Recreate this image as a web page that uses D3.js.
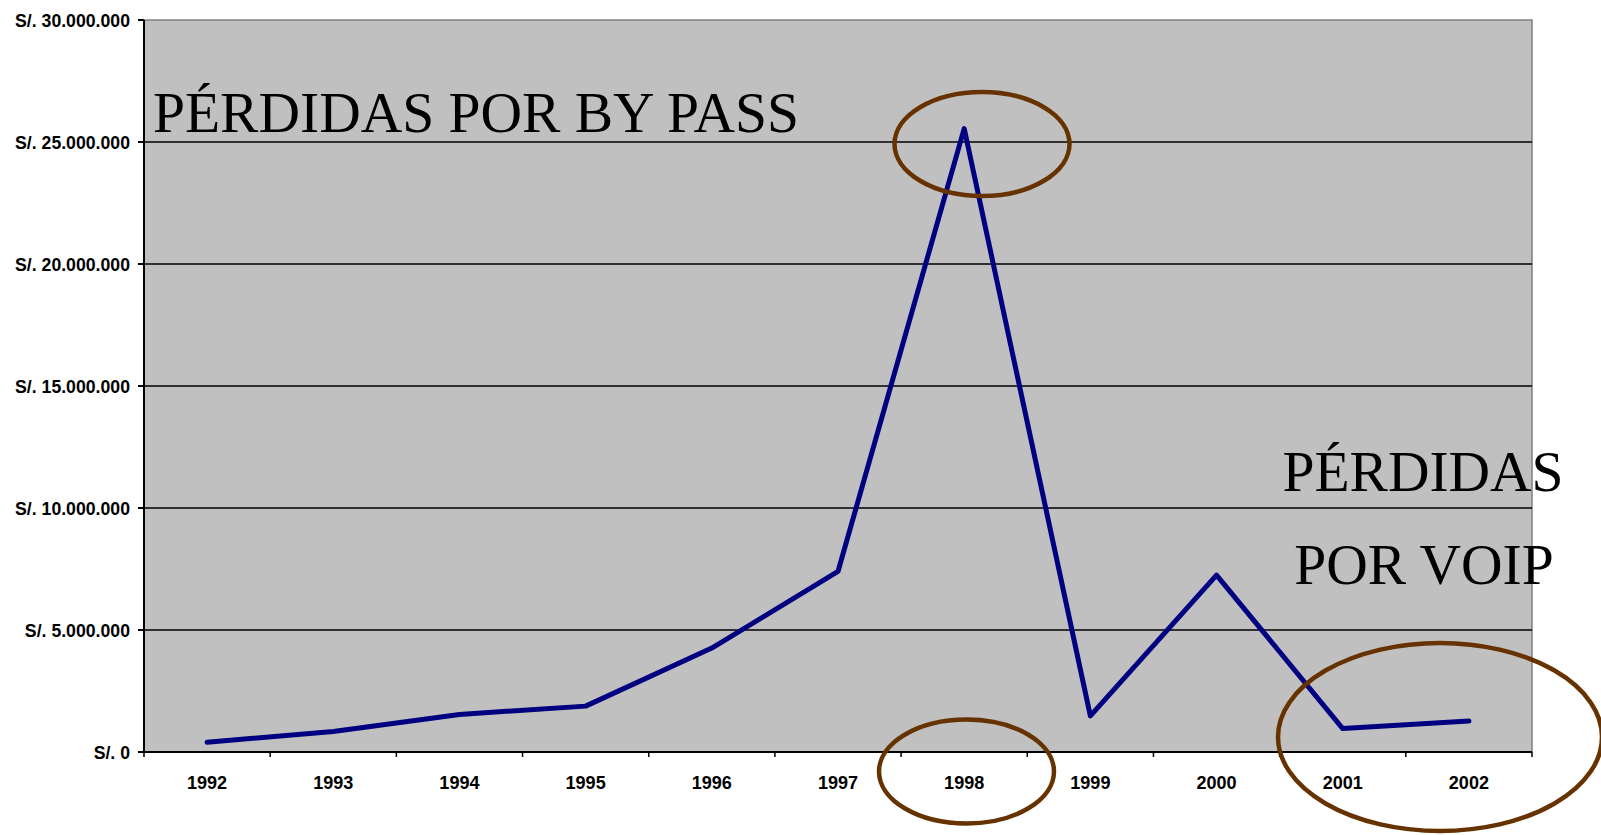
<!DOCTYPE html>
<html>
<head>
<meta charset="utf-8">
<script src="https://cdn.jsdelivr.net/npm/d3@7.9.0/dist/d3.min.js"></script>
<style>
  html, body { margin: 0; padding: 0; background: #fff; }
  svg { display: block; }
  .tick-label { font-family: "Liberation Sans", Arial, sans-serif; font-weight: bold; font-size: 19px; fill: #000; }
  .note { font-family: "Liberation Serif", "Times New Roman", serif; font-size: 57.5px; fill: #000; }
</style>
</head>
<body>
<svg id="chart" width="1601" height="835"></svg>
<script>
const years = ['1992', '1993', '1994', '1995', '1996', '1997', '1998', '1999', '2000', '2001', '2002'];
const losses = [400000, 840000, 1540000, 1880000, 4260000, 7400000, 25550000, 1480000, 7250000, 960000, 1270000];
const yTicks = [0, 5000000, 10000000, 15000000, 20000000, 25000000, 30000000];

const svg = d3.select('#chart');
const margin = { top: 20, right: 69, bottom: 83, left: 144 };
const width = 1601 - margin.left - margin.right;
const height = 835 - margin.top - margin.bottom;

const x = d3.scaleBand().domain(years).range([0, width]).padding(0);
const y = d3.scaleLinear().domain([0, 30000000]).range([height, 0]);

const fmt = (v) => 'S/. ' + d3.format(',')(v).replace(/,/g, '.');

// the original labels are a bit narrower than Arial bold
function squeeze(sel, k) {
  sel.each(function () {
    const len = this.getComputedTextLength();
    d3.select(this).attr('textLength', len * k).attr('lengthAdjust', 'spacingAndGlyphs');
  });
}

const g = svg.append('g').attr('transform', `translate(${margin.left},${margin.top})`);

// plot background + frame
g.append('rect')
  .attr('width', width)
  .attr('height', height)
  .attr('fill', '#c0c0c0')
  .attr('stroke', '#808080')
  .attr('stroke-width', 1.5);

// gridlines
g.selectAll('.grid')
  .data(yTicks.slice(1, -1))
  .join('line')
  .attr('x1', 0)
  .attr('x2', width)
  .attr('y1', (d) => y(d))
  .attr('y2', (d) => y(d))
  .attr('stroke', '#000')
  .attr('stroke-width', 1.5);

// y axis
g.append('line').attr('x1', 0).attr('x2', 0).attr('y1', 0).attr('y2', height)
  .attr('stroke', '#000').attr('stroke-width', 2);
g.selectAll('.ytick')
  .data(yTicks)
  .join('line')
  .attr('x1', -6).attr('x2', 0)
  .attr('y1', (d) => y(d)).attr('y2', (d) => y(d))
  .attr('stroke', '#000').attr('stroke-width', 2);
g.selectAll('.ylabel')
  .data(yTicks)
  .join('text')
  .attr('class', 'tick-label')
  .attr('x', -14)
  .attr('y', (d) => y(d))
  .attr('dy', '0.36em')
  .attr('text-anchor', 'end')
  .text(fmt)
  .call(squeeze, 0.93);

// x axis
g.append('line').attr('x1', 0).attr('x2', width).attr('y1', height).attr('y2', height)
  .attr('stroke', '#000').attr('stroke-width', 2);
const bounds = years.map((d) => x(d)).concat([width]);
g.selectAll('.xtick')
  .data(bounds)
  .join('line')
  .attr('x1', (d) => d).attr('x2', (d) => d)
  .attr('y1', height).attr('y2', height + 5)
  .attr('stroke', '#000').attr('stroke-width', 1.5);
g.selectAll('.xlabel')
  .data(years)
  .join('text')
  .attr('class', 'tick-label')
  .attr('x', (d) => x(d) + x.bandwidth() / 2)
  .attr('y', height + 37)
  .attr('text-anchor', 'middle')
  .text((d) => d)
  .call(squeeze, 0.95);

// series line
const line = d3.line()
  .x((d, i) => x(years[i]) + x.bandwidth() / 2)
  .y((d) => y(d));
g.append('path')
  .datum(losses)
  .attr('d', line)
  .attr('fill', 'none')
  .attr('stroke', '#000080')
  .attr('stroke-width', 5)
  .attr('stroke-linejoin', 'round')
  .attr('stroke-linecap', 'round');

// annotation texts
svg.append('text').attr('class', 'note').attr('x', 153).attr('y', 132).text('PÉRDIDAS POR BY PASS');
svg.append('text').attr('class', 'note').attr('x', 1423).attr('y', 491).attr('text-anchor', 'middle').text('PÉRDIDAS');
svg.append('text').attr('class', 'note').attr('x', 1424).attr('y', 584).attr('text-anchor', 'middle').text('POR VOIP');

// annotation ellipses
const rings = [
  { cx: 982, cy: 144, rx: 87.5, ry: 52 },
  { cx: 966.5, cy: 771.5, rx: 87.5, ry: 52 },
  { cx: 1440, cy: 737, rx: 162, ry: 94 }
];
svg.selectAll('.ring')
  .data(rings)
  .join('ellipse')
  .attr('cx', (d) => d.cx).attr('cy', (d) => d.cy)
  .attr('rx', (d) => d.rx).attr('ry', (d) => d.ry)
  .attr('fill', 'none')
  .attr('stroke', '#663300')
  .attr('stroke-width', 4.5);
</script>
</body>
</html>
